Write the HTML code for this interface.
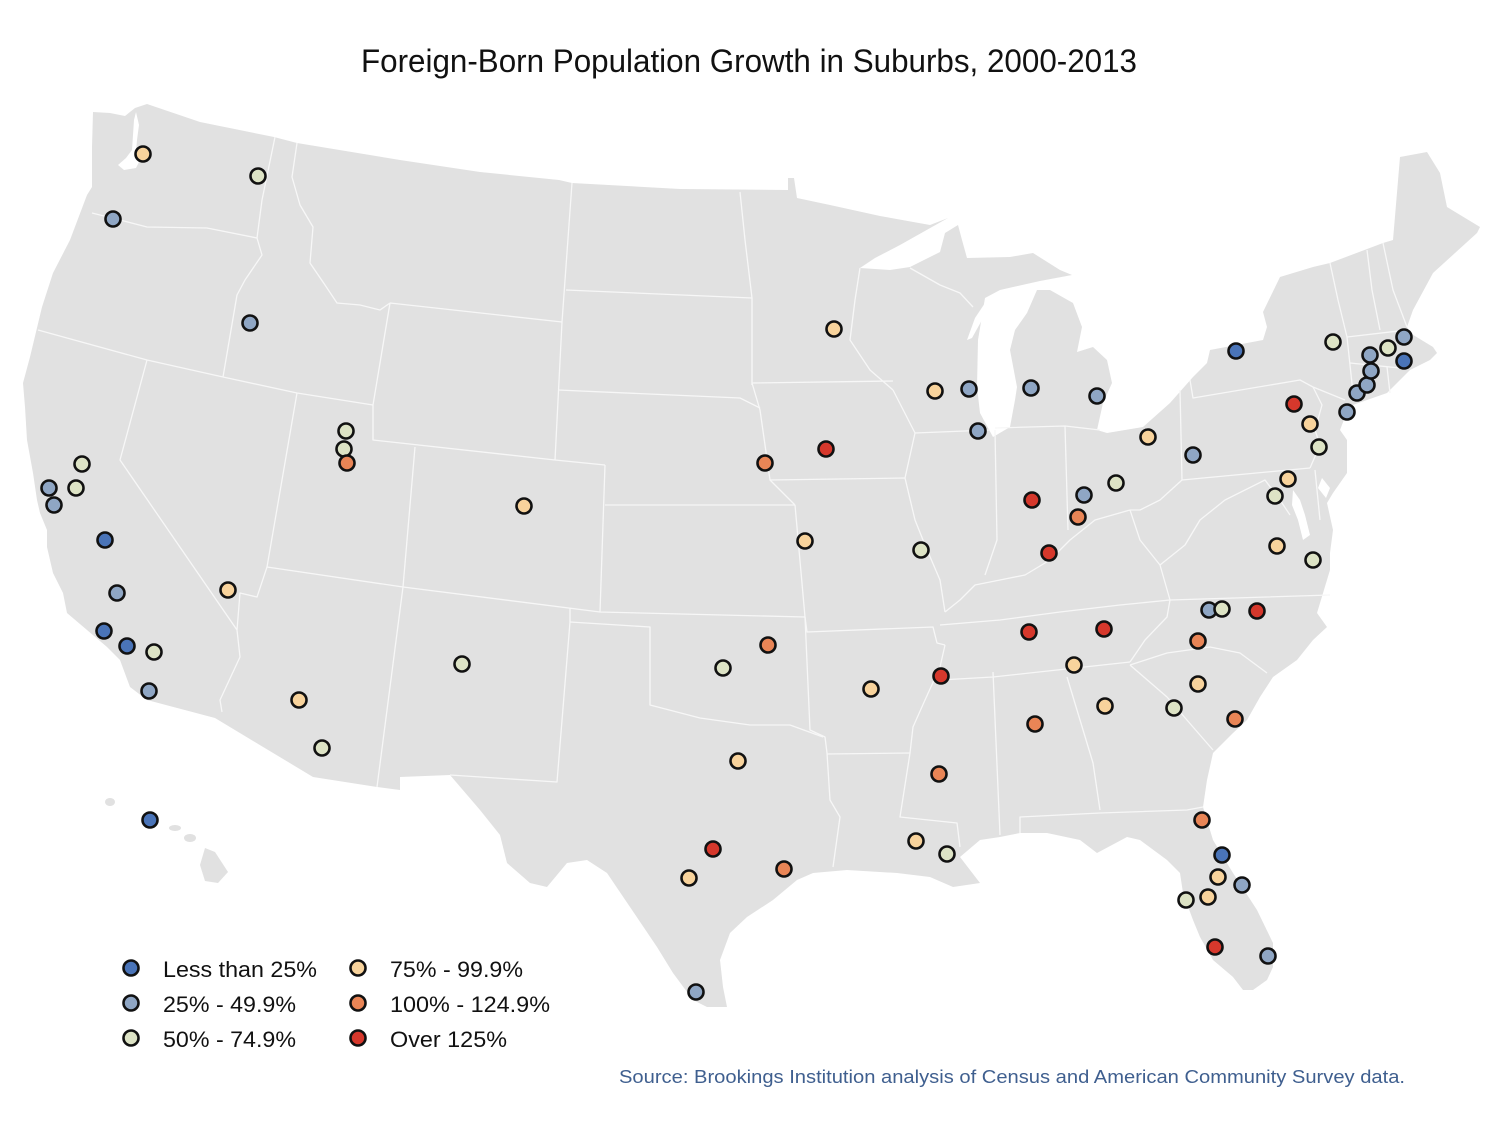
<!DOCTYPE html>
<html><head><meta charset="utf-8"><style>
html,body{margin:0;padding:0;background:#fff;}
svg{display:block;}
</style></head><body>
<svg width="1500" height="1125" viewBox="0 0 1500 1125" xmlns="http://www.w3.org/2000/svg">
<rect width="1500" height="1125" fill="#ffffff"/>
<text x="361" y="72" font-family="Liberation Sans, sans-serif" font-size="32" fill="#111" textLength="776" lengthAdjust="spacingAndGlyphs">Foreign-Born Population Growth in Suburbs, 2000-2013</text>

<!-- US outline -->
<path fill="#e1e1e1" d="M93,112 L110,113 L125,116 L135,108 L147,104 L200,122 L274,137 L297,143 L400,160 L480,172 L559,180 L572,183 L680,189 L788,190 L788,178 L794,178 L797,198 L830,205 L880,216 L930,225 L948,218 L900,245 L875,258 L860,268 L890,270 L910,267 L940,252 L945,233 L958,225 L962,240 L967,258 L1010,257 L1033,253 L1060,270 L1072,275 L1040,281 L1000,290 L985,298 L978,340 L977,387 L980,413 L993,437 L1010,427 L1015,400 L1017,387 L1010,350 L1015,330 L1027,313 L1037,290 L1050,290 L1073,303 L1082,327 L1077,352 L1093,347 L1107,360 L1112,383 L1103,403 L1097,430 L1107,433 L1143,427 L1170,403 L1193,377 L1207,363 L1210,350 L1263,340 L1267,327 L1263,312 L1280,277 L1313,267 L1330,263 L1383,243 L1393,240 L1400,157 L1427,152 L1440,173 L1447,207 L1480,227 L1477,233 L1433,273 L1413,310 L1407,327 L1410,333 L1433,347 L1437,353 L1430,360 L1410,370 L1387,393 L1367,400 L1347,407 L1345,417 L1340,430 L1347,440 L1347,473 L1333,493 L1327,503 L1333,530 L1330,553 L1330,570 L1317,613 L1327,627 L1313,640 L1297,660 L1273,677 L1260,697 L1247,720 L1233,733 L1213,753 L1207,780 L1203,807 L1213,840 L1233,873 L1257,910 L1273,943 L1273,967 L1267,980 L1253,990 L1243,990 L1233,977 L1213,960 L1200,937 L1193,920 L1183,893 L1180,873 L1167,860 L1140,840 L1127,837 L1097,853 L1080,840 L1047,833 L1020,833 L1000,837 L980,840 L960,857 L980,883 L953,887 L930,877 L897,873 L847,870 L813,873 L797,880 L773,900 L747,917 L730,933 L720,960 L723,987 L727,1007 L707,1007 L693,1000 L673,973 L657,947 L630,907 L607,873 L587,860 L567,863 L547,887 L530,883 L507,863 L500,835 L480,810 L450,775 L400,777 L400,790 L377,787 L313,777 L215,718 L147,700 L130,687 L120,660 L107,647 L87,630 L67,613 L63,593 L53,573 L47,547 L47,530 L40,513 L37,500 L33,473 L27,440 L25,407 L23,383 L30,357 L42,307 L53,273 L70,240 L87,195 L92,187 L92,147 Z"/>
<!-- water details -->
<path fill="#fff" d="M136,112 L139,125 L137,140 L136,152 L140,160 L136,168 L124,170 L118,165 L126,158 L132,150 L133,135 L134,120 Z"/>
<path fill="#fff" d="M967,340 L975,318 L987,300 L982,320 L972,338 Z"/>
<path fill="#fff" d="M1293,490 L1300,500 L1305,515 L1310,535 L1303,540 L1298,520 L1292,505 Z"/>
<path fill="#fff" d="M1322,478 L1330,488 L1326,498 L1318,488 Z"/>
<!-- Hawaii -->
<g fill="#e1e1e1">
<ellipse cx="110" cy="802" rx="5" ry="4"/>
<ellipse cx="150" cy="822" rx="7" ry="5"/>
<ellipse cx="175" cy="828" rx="6" ry="3"/>
<ellipse cx="190" cy="838" rx="6" ry="4"/>
<path d="M205,848 L215,852 L228,872 L218,883 L205,881 L200,865 Z"/>
</g>

<!-- state borders -->
<g fill="none" stroke="#f7f7f7" stroke-width="1.3" stroke-linejoin="round">
<polyline points="92,213 120,220 147,227 207,228 257,238"/>
<polyline points="275,137 262,200 257,238"/>
<polyline points="257,238 262,255 245,280 237,295 223,377"/>
<polyline points="38,330 147,360 223,377"/>
<polyline points="297,143 292,177 300,205 313,227 310,263 325,285 337,303 360,305 380,310 390,303"/>
<polyline points="390,303 373,405"/>
<polyline points="223,377 297,393 373,405"/>
<polyline points="390,303 562,322"/>
<polyline points="572,183 562,322 555,460"/>
<polyline points="566,290 752,298"/>
<polyline points="740,192 745,240 752,298 752,385"/>
<polyline points="558,390 740,398 760,408"/>
<polyline points="752,383 760,410 770,480 795,505"/>
<polyline points="555,460 605,465"/>
<polyline points="605,505 795,505"/>
<polyline points="605,465 600,612"/>
<polyline points="373,405 373,440 555,460"/>
<polyline points="415,447 403,587"/>
<polyline points="267,567 403,587 377,787"/>
<polyline points="297,393 267,567 257,597 240,593 237,630"/>
<polyline points="147,360 120,460 237,630 240,657 220,700 222,712"/>
<polyline points="403,587 600,612 805,617"/>
<polyline points="570,608 570,622 557,782 450,775"/>
<polyline points="570,622 650,627 650,705 700,718 750,725 790,725 823,737"/>
<polyline points="805,617 810,730 825,737 827,753 830,800 840,817 833,867"/>
<polyline points="795,505 805,617 807,632 933,627 937,643 945,645"/>
<polyline points="827,754 910,753"/>
<polyline points="945,645 940,667 925,700 913,727 910,753 900,817 957,823 960,847"/>
<polyline points="993,672 1000,835"/>
<polyline points="940,680 993,677 1130,662"/>
<polyline points="1067,677 1093,763 1100,810"/>
<polyline points="1020,833 1020,817 1100,813 1187,810 1203,807"/>
<polyline points="1130,665 1167,697 1193,727 1213,750"/>
<polyline points="1130,665 1167,653 1210,647 1240,653 1267,673"/>
<polyline points="1130,662 1145,640 1167,617 1170,600"/>
<polyline points="940,625 1000,620 1060,612 1120,605 1170,600 1330,595"/>
<polyline points="945,612 960,600 975,585 1000,580 1025,575 1050,560 1070,540 1095,520 1130,510"/>
<polyline points="1130,510 1140,540 1160,565 1170,600"/>
<polyline points="893,390 915,433 905,478 915,520 925,545 940,580 945,612"/>
<polyline points="770,480 905,478"/>
<polyline points="752,383 893,381"/>
<polyline points="860,268 855,300 850,340 870,370 893,390"/>
<polyline points="915,433 990,430"/>
<polyline points="910,268 940,285 960,293 973,307"/>
<polyline points="995,430 997,540 985,575"/>
<polyline points="995,428 1065,426 1100,430"/>
<polyline points="1065,426 1068,530"/>
<polyline points="1180,390 1182,480 1160,500 1140,510 1130,510"/>
<polyline points="1190,380 1193,398 1300,380 1313,387"/>
<polyline points="1313,387 1322,405 1315,430 1320,445 1310,468"/>
<polyline points="1182,480 1310,468"/>
<polyline points="1313,387 1345,400"/>
<polyline points="1330,263 1338,300 1347,337 1353,393"/>
<polyline points="1367,250 1372,290 1380,330"/>
<polyline points="1383,243 1393,290 1407,327"/>
<polyline points="1347,337 1407,330"/>
<polyline points="1350,363 1400,368"/>
<polyline points="1387,367 1390,393"/>
<polyline points="1160,565 1185,545 1200,520 1225,500 1245,490 1265,480 1280,500 1290,515"/>
<polyline points="1315,470 1320,520"/>
</g>

<!-- dots -->
<g stroke="#111" stroke-width="2.6">
<g fill="#4a74b8">
<circle cx="105" cy="540" r="7.5"/><circle cx="104" cy="631" r="7.5"/><circle cx="127" cy="646" r="7.5"/>
<circle cx="150" cy="820" r="7.5"/><circle cx="1222" cy="855" r="7.5"/><circle cx="1236" cy="351" r="7.5"/>
<circle cx="1404" cy="361" r="7.5"/>
</g>
<g fill="#8fa6c4">
<circle cx="113" cy="219" r="7.5"/><circle cx="250" cy="323" r="7.5"/><circle cx="49" cy="488" r="7.5"/>
<circle cx="54" cy="505" r="7.5"/><circle cx="117" cy="593" r="7.5"/><circle cx="149" cy="691" r="7.5"/>
<circle cx="696" cy="992" r="7.5"/><circle cx="969" cy="389" r="7.5"/><circle cx="978" cy="431" r="7.5"/>
<circle cx="1031" cy="388" r="7.5"/><circle cx="1097" cy="396" r="7.5"/><circle cx="1084" cy="495" r="7.5"/>
<circle cx="1193" cy="455" r="7.5"/><circle cx="1242" cy="885" r="7.5"/><circle cx="1268" cy="956" r="7.5"/>
<circle cx="1370" cy="355" r="7.5"/><circle cx="1404" cy="337" r="7.5"/><circle cx="1347" cy="412" r="7.5"/>
<circle cx="1357" cy="393" r="7.5"/><circle cx="1367" cy="385" r="7.5"/><circle cx="1371" cy="371" r="7.5"/>
<circle cx="1209" cy="610" r="7.5"/>
</g>
<g fill="#dde3c5">
<circle cx="258" cy="176" r="7.5"/><circle cx="82" cy="464" r="7.5"/><circle cx="76" cy="488" r="7.5"/>
<circle cx="154" cy="652" r="7.5"/><circle cx="322" cy="748" r="7.5"/><circle cx="346" cy="431" r="7.5"/>
<circle cx="344" cy="449" r="7.5"/><circle cx="462" cy="664" r="7.5"/><circle cx="723" cy="668" r="7.5"/>
<circle cx="947" cy="854" r="7.5"/><circle cx="921" cy="550" r="7.5"/><circle cx="1116" cy="483" r="7.5"/>
<circle cx="1174" cy="708" r="7.5"/><circle cx="1222" cy="609" r="7.5"/><circle cx="1186" cy="900" r="7.5"/>
<circle cx="1333" cy="342" r="7.5"/><circle cx="1388" cy="348" r="7.5"/><circle cx="1319" cy="447" r="7.5"/>
<circle cx="1275" cy="496" r="7.5"/><circle cx="1313" cy="560" r="7.5"/>
</g>
<g fill="#f8d39c">
<circle cx="143" cy="154" r="7.5"/><circle cx="228" cy="590" r="7.5"/><circle cx="299" cy="700" r="7.5"/>
<circle cx="524" cy="506" r="7.5"/><circle cx="834" cy="329" r="7.5"/><circle cx="805" cy="541" r="7.5"/>
<circle cx="738" cy="761" r="7.5"/><circle cx="689" cy="878" r="7.5"/><circle cx="871" cy="689" r="7.5"/>
<circle cx="916" cy="841" r="7.5"/><circle cx="935" cy="391" r="7.5"/><circle cx="1148" cy="437" r="7.5"/>
<circle cx="1074" cy="665" r="7.5"/><circle cx="1105" cy="706" r="7.5"/><circle cx="1198" cy="684" r="7.5"/>
<circle cx="1218" cy="877" r="7.5"/><circle cx="1208" cy="897" r="7.5"/><circle cx="1310" cy="424" r="7.5"/>
<circle cx="1288" cy="479" r="7.5"/><circle cx="1277" cy="546" r="7.5"/>
</g>
<g fill="#e98556">
<circle cx="347" cy="463" r="7.5"/><circle cx="765" cy="463" r="7.5"/><circle cx="768" cy="645" r="7.5"/>
<circle cx="784" cy="869" r="7.5"/><circle cx="939" cy="774" r="7.5"/><circle cx="1078" cy="517" r="7.5"/>
<circle cx="1035" cy="724" r="7.5"/><circle cx="1235" cy="719" r="7.5"/><circle cx="1198" cy="641" r="7.5"/>
<circle cx="1202" cy="820" r="7.5"/>
</g>
<g fill="#d6382c">
<circle cx="826" cy="449" r="7.5"/><circle cx="713" cy="849" r="7.5"/><circle cx="941" cy="676" r="7.5"/>
<circle cx="1032" cy="500" r="7.5"/><circle cx="1049" cy="553" r="7.5"/><circle cx="1029" cy="632" r="7.5"/>
<circle cx="1104" cy="629" r="7.5"/><circle cx="1257" cy="611" r="7.5"/><circle cx="1215" cy="947" r="7.5"/>
<circle cx="1294" cy="404" r="7.5"/>
</g>
</g>

<!-- legend -->
<g stroke="#111" stroke-width="2.6">
<circle cx="131" cy="968" r="7.5" fill="#4a74b8"/>
<circle cx="131" cy="1003" r="7.5" fill="#8fa6c4"/>
<circle cx="131" cy="1038" r="7.5" fill="#dde3c5"/>
<circle cx="358" cy="968" r="7.5" fill="#f8d39c"/>
<circle cx="358" cy="1003" r="7.5" fill="#e98556"/>
<circle cx="358" cy="1038" r="7.5" fill="#d6382c"/>
</g>
<g font-family="Liberation Sans, sans-serif" font-size="22" fill="#111">
<text x="163" y="977" textLength="154" lengthAdjust="spacingAndGlyphs">Less than 25%</text>
<text x="163" y="1012" textLength="133" lengthAdjust="spacingAndGlyphs">25% - 49.9%</text>
<text x="163" y="1047" textLength="133" lengthAdjust="spacingAndGlyphs">50% - 74.9%</text>
<text x="390" y="977" textLength="133" lengthAdjust="spacingAndGlyphs">75% - 99.9%</text>
<text x="390" y="1012" textLength="160" lengthAdjust="spacingAndGlyphs">100% - 124.9%</text>
<text x="390" y="1047" textLength="117" lengthAdjust="spacingAndGlyphs">Over 125%</text>
</g>
<text x="619" y="1083" font-family="Liberation Sans, sans-serif" font-size="18" fill="#3f5f8f" textLength="786" lengthAdjust="spacingAndGlyphs">Source: Brookings Institution analysis of Census and American Community Survey data.</text>
</svg>
</body></html>
